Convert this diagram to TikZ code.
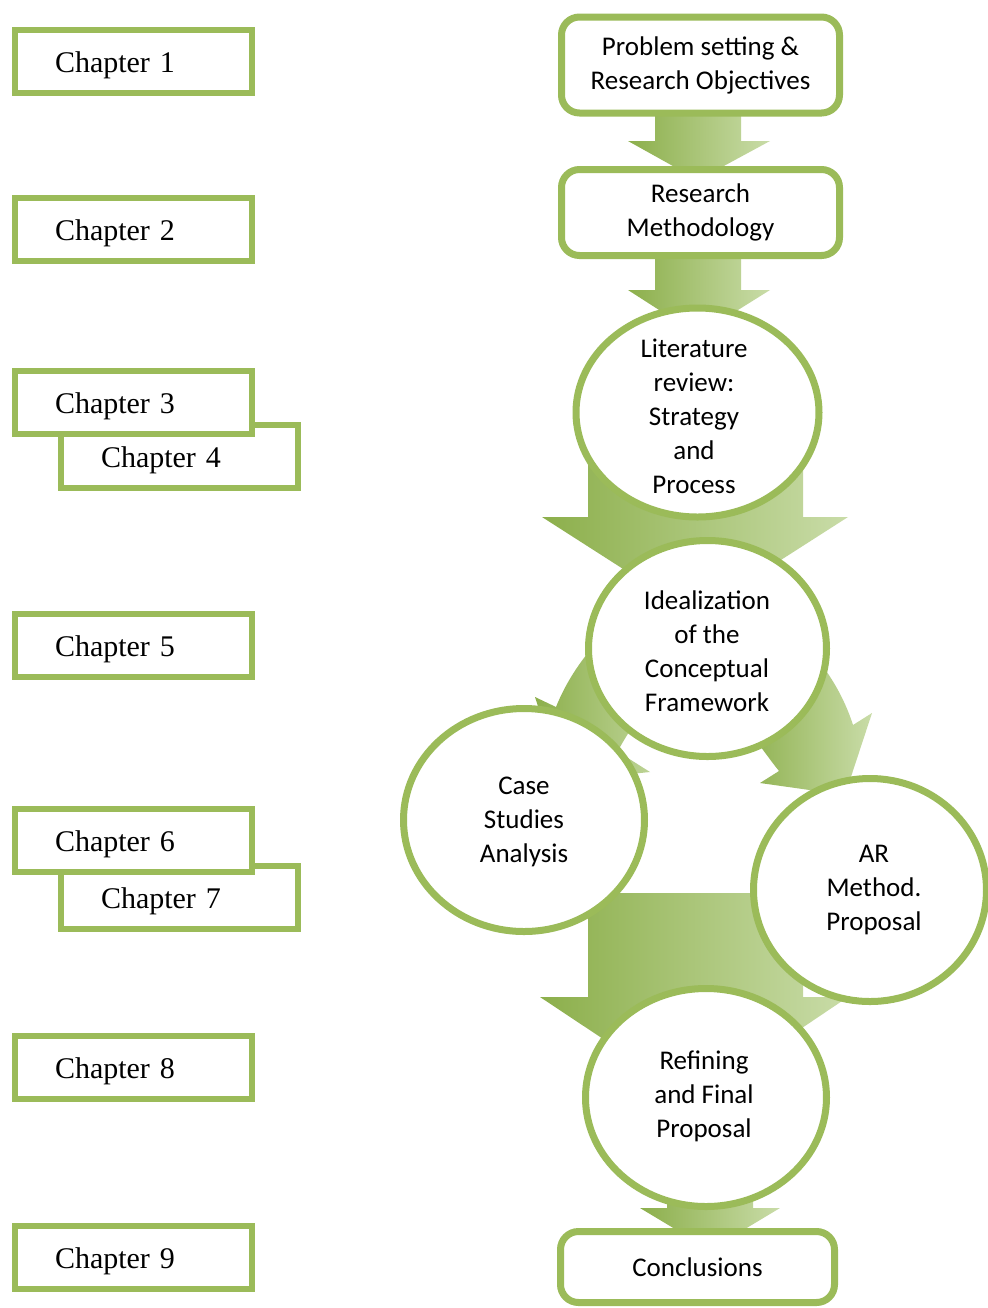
\documentclass[tikz,border=0pt]{standalone}
\usepackage{fontspec}
\setmainfont{Liberation Serif}
\newfontfamily\carl{Carlito}
\usetikzlibrary{shapes.geometric}
\definecolor{gborder}{HTML}{9BBB59}
\definecolor{adark}{HTML}{8CAF4B}
\definecolor{alight}{HTML}{C9DCA8}
\begin{document}
\begin{tikzpicture}[x=0.5pt,y=-0.5pt,
 chap/.style={draw=gborder, line width=3pt, fill=white, minimum width=118.5pt, minimum height=31.5pt, text width=78.5pt, text height=12pt, text depth=1pt, inner xsep=20pt, inner ysep=0pt, align=left, font=\fontsize{15}{18}\selectfont},
 rbox/.style={draw=gborder, line width=3.5pt, fill=white, rounded corners=9pt, inner sep=0pt, align=center, font=\carl\fontsize{13.5}{17}\selectfont},
 bub/.style={ellipse, draw=gborder, line width=3.5pt, fill=white, inner sep=0pt},
 bubtext/.style={align=center, inner sep=0pt, font=\carl\fontsize{13.5}{17}\selectfont},
 flow/.style={left color=adark, right color=alight, draw=none}
]
\useasboundingbox (0,0) rectangle (987,1308);
\fill[white] (0,0) rectangle (987,1308);

% ---------- flow arrows (behind) ----------
\shade[flow] (655,110) -- (741,110) -- (741,141) -- (770,141) -- (698,180) -- (628,141) -- (655,141) -- cycle;
\shade[flow] (655,255) -- (741,255) -- (741,290) -- (770,290) -- (698,335) -- (628,290) -- (655,290) -- cycle;
\shade[flow] (588,430) -- (803,430) -- (803,517) -- (848,517) -- (695,615) -- (542,517) -- (588,517) -- cycle;
% curved arrow to Case Studies
\shade[flow] (625,615) .. controls (595,640) and (570,672) .. (556,707) -- (535,697) -- (562,781) -- (650,772) -- (617.5,751.5) .. controls (635,720) and (650,700) .. (680,680) -- cycle;
% curved arrow to AR
\shade[flow] (800,640) .. controls (830,670) and (845,700) .. (853,725) -- (872,713) -- (845,795) -- (760,783) -- (779,771) .. controls (770,760) and (760,745) .. (740,720) -- cycle;
\shade[flow] (588,893) -- (803,893) -- (803,997) -- (848,997) -- (695,1100) -- (540,997) -- (588,997) -- cycle;
\shade[flow] (667,1150) -- (753,1150) -- (753,1208) -- (780,1208) -- (710,1250) -- (640,1208) -- (667,1208) -- cycle;

% ---------- right column ----------
\node[rbox, minimum width=139pt, minimum height=48pt] (prob) at (700.5,65) {Problem setting \&\\Research Objectives};
\node[rbox, minimum width=139pt, minimum height=43pt] (meth) at (700.5,212.5) {Research\\Methodology};
\node[bub, minimum width=121.5pt, minimum height=104.5pt] (lit) at (697.5,412.5) {};
\node[bubtext] (litT) at (694,416) {Literature\\review:\\Strategy\\and\\Process};
\node[bub, minimum width=119pt, minimum height=108pt] (ideal) at (707.5,648.5) {};
\node[bubtext] (idealT) at (707,651) {Idealization\\of the\\Conceptual\\Framework};
\node[bub, minimum width=120.5pt, minimum height=111.5pt] (case) at (524,820) {};
\node[bubtext] (caseT) at (524,822) {Case\\Studies\\Analysis};
\node[bub, minimum width=116.5pt, minimum height=111.5pt] (ar) at (870,890) {};
\node[bubtext] (arT) at (874,890) {AR\\Method.\\Proposal};
\node[bub, minimum width=120.5pt, minimum height=109pt] (ref) at (706,1097.5) {};
\node[bubtext] (refT) at (704,1096) {Refining\\and Final\\Proposal};
\node[rbox, minimum width=137pt, minimum height=35.5pt] (concl) at (697.5,1267) {Conclusions};

% ---------- left column ----------
\node[chap] (c1) at (133.5,61.5) {Chapter 1};
\node[chap] (c2) at (133.5,229.5) {Chapter 2};
\node[chap] (c4) at (179.5,456.5) {Chapter 4};
\node[chap] (c3) at (133.5,402.5) {Chapter 3};
\node[chap] (c5) at (133.5,645.5) {Chapter 5};
\node[chap] (c7) at (179.5,897) {Chapter 7};
\node[chap] (c6) at (133.5,840) {Chapter 6};
\node[chap] (c8) at (133.5,1067) {Chapter 8};
\node[chap] (c9) at (133.5,1257) {Chapter 9};
\end{tikzpicture}
\end{document}
